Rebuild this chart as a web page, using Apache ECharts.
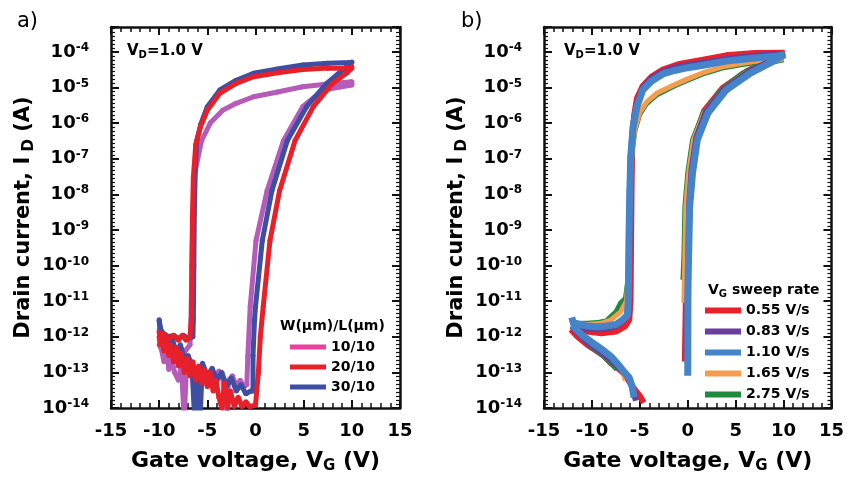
<!DOCTYPE html>
<html>
<head>
<meta charset="utf-8">
<script src="https://cdn.jsdelivr.net/npm/echarts@6.0.0/dist/echarts.min.js"></script>
<style>
  html, body { margin: 0; padding: 0; background: #fff; }
  #chart { width: 847px; height: 479px; }
</style>
</head>
<body>
<div id="chart"></div>
<script>
// axis ticks
var xTicks = [-15, -10, -5, 0, 5, 10, 15];
var yDecades = [-14, -13, -12, -11, -10, -9, -8, -7, -6, -5, -4];
var yTop = 5e-4;

// panel a: W/L series, [VG (V), ID (A)], forward sweep then reverse
var aW10 = [
  [-10, 1.5e-12], [-9.8, 5e-13], [-9.5, 2e-13], [-9.2, 3.5e-13], [-9, 1.2e-13], [-8.7, 2.5e-13], [-8.4, 1e-13],
  [-8, 6e-14], [-7.7, 1.5e-13], [-7.4, 5e-15], [-7.2, 8e-14], [-6.9, 1.2e-13], [-6.5, 7e-14], [-6.2, 1e-13],
  [-5.8, 5e-14], [-5.4, 9e-14], [-5, 4e-14], [-4.6, 1e-13], [-4.2, 5e-14], [-3.8, 1.1e-13], [-3.4, 7e-14],
  [-3, 4e-15], [-2.8, 6e-14], [-2.4, 8e-14], [-2, 4e-14], [-1.6, 6e-14], [-1.2, 4e-14], [-0.9, 4.5e-14],
  [-0.8, 2.8e-13], [-0.55, 7e-12], [0.05, 5e-10], [1.2, 1.26e-8], [2.9, 3.2e-7], [4.9, 2.9e-6], [7, 8.5e-6], [10, 1.17e-5],
  [10, 1.45e-5], [7.5, 1.25e-5], [4.9, 1.05e-5], [2.3, 7.5e-6], [-0.2, 5.5e-6], [-2, 3.6e-6], [-3.4, 2.3e-6],
  [-4.7, 1e-6], [-5.6, 3.2e-7], [-6.3, 4e-8], [-6.5, 2e-9], [-6.6, 1e-10], [-6.7, 3e-12], [-6.8, 6e-13],
  [-7.3, 4e-13], [-7.8, 3e-13], [-8.3, 2e-13], [-8.8, 3e-13], [-9.3, 2.5e-13], [-9.7, 4e-13], [-10, 6e-13]
];
var aW20 = [
  [-10, 1e-12], [-9.9, 6e-13], [-9.7, 1.2e-12], [-9.5, 4e-13], [-9.3, 8e-13], [-9, 3e-13], [-8.8, 6e-13],
  [-8.5, 2e-13], [-8.2, 5e-13], [-8, 1.5e-13], [-7.7, 3.5e-13], [-7.4, 1e-13], [-7.1, 2.5e-13], [-6.8, 8e-14],
  [-6.5, 2e-13], [-6.2, 6e-14], [-5.9, 1.5e-13], [-5.6, 5e-14], [-5.3, 1.2e-13], [-5, 4e-14], [-4.7, 1e-13],
  [-4.4, 3e-14], [-4.1, 6e-14], [-3.8, 2e-14], [-3.5, 1e-14], [-3.2, 5e-14], [-2.9, 1e-14], [-2.6, 3e-14],
  [-2.2, 1.1e-14], [-1.8, 2e-14], [-1.4, 1.1e-14], [-1, 1.5e-14], [-0.6, 1.1e-14], [0, 1.2e-14], [0.3, 1e-13],
  [0.5, 1e-12], [0.8, 7e-12], [1.5, 5e-10], [2.5, 1.26e-8], [4.1, 3.2e-7], [6, 2.9e-6], [8, 1.3e-5], [9.5, 2.6e-5], [10, 3.5e-5],
  [10, 3.8e-5], [7.5, 3.5e-5], [4.9, 3.2e-5], [2.3, 2.6e-5], [-0.2, 2e-5], [-2, 1.3e-5], [-3.7, 6.9e-6],
  [-5, 2.3e-6], [-5.7, 8e-7], [-6.2, 2.5e-7], [-6.45, 3e-8], [-6.55, 2e-9], [-6.6, 1e-10], [-6.65, 3e-12],
  [-6.8, 1e-12], [-7.2, 8e-13], [-7.6, 1.1e-12], [-8, 8e-13], [-8.5, 1.1e-12], [-9, 9e-13], [-9.5, 1.2e-12], [-10, 1.3e-12]
];
var aW30 = [
  [-10, 3e-12], [-9.9, 1.2e-12], [-9.6, 7e-13], [-9.3, 1e-12], [-9, 5e-13], [-8.6, 8e-13], [-8.2, 3.5e-13],
  [-7.8, 6e-13], [-7.4, 2.5e-13], [-7, 3e-13], [-6.6, 1.5e-13], [-6.3, 4e-15], [-6.1, 1.2e-13], [-5.8, 3e-15],
  [-5.5, 1.8e-13], [-5, 8e-14], [-4.5, 1.3e-13], [-4, 6e-14], [-3.5, 1e-13], [-3, 4e-14], [-2.5, 7e-14],
  [-2, 3e-14], [-1.5, 4.5e-14], [-1, 2.5e-14], [-0.5, 3e-14], [-0.26, 3e-14],
  [-0.26, 3e-13], [-0.1, 3e-12], [0, 7e-12], [0.7, 5e-10], [1.7, 1.26e-8], [3.3, 3.2e-7], [5.3, 2.9e-6], [7.4, 1.3e-5], [9.1, 3.2e-5], [10, 5e-5],
  [10, 5.2e-5], [7.5, 4.8e-5], [4.9, 4.3e-5], [2.3, 3.3e-5], [-0.2, 2.5e-5], [-2, 1.6e-5], [-3.7, 8.5e-6],
  [-5, 2.9e-6], [-5.7, 9e-7], [-6.1, 3.2e-7], [-6.25, 5e-8], [-6.35, 3e-9], [-6.4, 1e-10], [-6.45, 3e-12],
  [-6.5, 1e-12], [-7, 9e-13], [-7.5, 1.1e-12], [-8, 9e-13], [-8.5, 1.1e-12], [-9, 1e-12], [-9.5, 1.2e-12], [-9.8, 1.5e-12], [-10, 2.8e-12]
];

// panel b: sweep rate series ('-' = below the plotted range)
var bR055 = [
  [-12.2, 1.6e-12], [-11.5, 1e-12], [-10.5, 6e-13], [-9.5, 4e-13], [-8.8, 3e-13], [-8, 1.8e-13], [-7.1, 1.2e-13],
  [-6.5, 8e-14], [-6, 5e-14], [-5.5, 3.2e-14], [-5, 2.2e-14], [-4.6, 1.4e-14], [-2, '-'],
  [-0.3, 2e-13], [-0.2, 1e-11], [-0.1, 8e-11], [0.05, 5e-9], [0.3, 5e-8], [0.75, 4e-7], [1.7, 2.2e-6], [3.6, 9.5e-6], [6.2, 2.9e-5], [9, 6.8e-5], [10.1, 9.5e-5],
  [10.1, 1e-4], [7, 9.3e-5], [4, 8e-5], [1.6, 6e-5], [-1, 4.5e-5], [-2.6, 3.2e-5], [-3.8, 2e-5], [-4.7, 1.1e-5],
  [-5.3, 5e-6], [-5.6, 1.6e-6], [-5.8, 2.5e-7], [-5.87, 1e-8], [-5.92, 3e-10], [-5.97, 1e-11], [-6.1, 3e-12],
  [-6.5, 2e-12], [-7.5, 1.4e-12], [-9, 1.26e-12], [-10.5, 1.4e-12], [-12.2, 1.7e-12]
];
var bP083 = [
  [-12.1, 2e-12], [-11.5, 1.3e-12], [-10.5, 7e-13], [-9.5, 4.5e-13], [-8.8, 3.2e-13], [-8, 2.2e-13], [-7.1, 1.3e-13],
  [-6.5, 9e-14], [-6, 5.5e-14], [-5.6, 2.5e-14], [-5.4, 1.6e-14], [-2, '-'],
  [-0.05, 3e-13], [0, 1e-11], [0.05, 8e-11], [0.15, 5e-9], [0.4, 5e-8], [0.9, 4e-7], [1.9, 2.1e-6], [3.8, 9e-6], [6.3, 2.7e-5], [9, 6.3e-5], [10, 8.5e-5],
  [10, 9e-5], [9, 8.7e-5], [6.5, 7.5e-5], [4, 6.3e-5], [1.6, 5e-5], [0, 4.3e-5], [-1.4, 3.6e-5], [-2.6, 2.8e-5],
  [-3.8, 1.8e-5], [-4.7, 1e-5], [-5.3, 3.5e-6], [-5.7, 9e-7], [-5.95, 1.2e-7], [-6.05, 1e-8], [-6.12, 3e-10],
  [-6.18, 1e-11], [-6.3, 4e-12], [-6.8, 2.8e-12], [-7.5, 2e-12], [-8.5, 1.7e-12], [-9.5, 1.6e-12], [-10.5, 1.7e-12], [-11.5, 1.9e-12], [-12.1, 2.2e-12]
];
var bB110 = [
  [-12.1, 3.5e-12], [-11.8, 1.8e-12], [-11, 1.1e-12], [-10, 7e-13], [-9, 4.5e-13], [-8, 2.8e-13], [-7.2, 1.6e-13],
  [-6.6, 1e-13], [-6.1, 7e-14], [-5.8, 4e-14], [-5.6, 2e-14], [-2, '-'],
  [0, 8e-14], [0.02, 1e-11], [0.05, 6e-11], [0.2, 4.5e-9], [0.5, 4e-8], [1, 3.4e-7], [2.1, 1.9e-6], [4, 8.5e-6], [6.5, 2.5e-5], [9.2, 6e-5], [10.1, 8.3e-5],
  [10.1, 8.3e-5], [9.2, 7.6e-5], [6.5, 6.5e-5], [4, 5.5e-5], [1.6, 4.2e-5], [0, 3.6e-5], [-1.4, 3e-5], [-2.6, 2.4e-5],
  [-3.8, 1.5e-5], [-4.7, 8.5e-6], [-5.3, 2.9e-6], [-5.7, 8e-7], [-5.95, 1.1e-7], [-6.05, 1e-8], [-6.15, 3e-10],
  [-6.2, 1e-11], [-6.3, 4e-12], [-6.8, 3e-12], [-7.5, 2.2e-12], [-8.5, 2e-12], [-9.5, 1.9e-12], [-10.5, 2e-12], [-11.5, 2.3e-12], [-12.1, 2.6e-12]
];
var bO165 = [
  [-12, 2e-12], [-11, 1e-12], [-10, 6e-13], [-9, 3.8e-13], [-8, 2.4e-13], [-7.3, 1.6e-13], [-6.8, 1e-13],
  [-6.5, 6e-14], [-2, '-'],
  [-0.4, 9e-12], [-0.3, 2e-10], [-0.2, 4.5e-9], [0.1, 4e-8], [0.6, 3.4e-7], [1.7, 1.9e-6], [3.7, 8.5e-6], [6, 2.5e-5], [8.5, 5e-5], [10, 6.5e-5],
  [10, 6.8e-5], [7.8, 5.8e-5], [5.7, 4.8e-5], [3.6, 3.8e-5], [1.6, 2.6e-5], [0, 1.75e-5], [-1.4, 1.2e-5], [-3.2, 7e-6],
  [-4.3, 3.9e-6], [-5, 2e-6], [-5.5, 7e-7], [-5.8, 1.8e-7], [-6, 2.8e-8], [-6.1, 1e-9], [-6.2, 5e-11], [-6.4, 1e-11],
  [-7, 5e-12], [-8, 3e-12], [-9, 2.4e-12], [-10.5, 2.2e-12], [-12, 2.4e-12]
];
var bG275 = [
  [-12, 2.5e-12], [-11, 9e-13], [-10, 5e-13], [-9, 3.2e-13], [-8, 1.8e-13], [-7.4, 1.2e-13], [-2, '-'],
  [-0.5, 4e-11], [-0.4, 2e-10], [-0.3, 4.5e-9], [0, 4e-8], [0.5, 3.4e-7], [1.6, 1.9e-6], [3.5, 8.5e-6], [5.7, 2.5e-5], [7.8, 4.5e-5], [10, 6e-5],
  [10, 6.3e-5], [7.8, 5.4e-5], [5.7, 4.4e-5], [3.6, 3.5e-5], [1.6, 2.4e-5], [0, 1.6e-5], [-1.4, 1.1e-5], [-3.2, 6.3e-6],
  [-4.3, 3.5e-6], [-5, 1.8e-6], [-5.5, 6.3e-7], [-5.8, 1.6e-7], [-6, 2.5e-8], [-6.1, 1e-9], [-6.2, 5e-11], [-6.5, 1.2e-11],
  [-7, 9e-12], [-7.5, 5e-12], [-8.5, 2.8e-12], [-9.5, 2.5e-12], [-10.5, 2.4e-12], [-11.5, 2.4e-12], [-12, 2.5e-12]
];

var FONT = 'DejaVu Sans';
var INK = '#111';

function decadeLabel(v) {
  var l = Math.log10(v), e = Math.round(l);
  if (Math.abs(l - e) > 1e-6) return '';
  return '{m|10}{e|' + e + '}';
}

var majorTick = { inside: true, length: 8, lineStyle: { color: INK, width: 2 } };
var minorTickStyle = { color: INK, width: 1.5 };

function makeAxes(gi) {
  var line = { show: true, onZero: false, lineStyle: { color: INK, width: 2.5 } };
  var xBase = {
    gridIndex: gi, type: 'value',
    min: xTicks[0], max: xTicks[xTicks.length - 1], interval: xTicks[1] - xTicks[0],
    axisLine: line, splitLine: { show: false },
    axisTick: majorTick,
    minorTick: { show: true, splitNumber: 5, length: 5, lineStyle: minorTickStyle }
  };
  // tick-only exponent axes that carry the small ticks between decades
  var expBase = {
    gridIndex: gi, type: 'value',
    min: yDecades[0], max: Math.log10(yTop), interval: 1,
    axisLine: { show: false, onZero: false }, splitLine: { show: false }, axisLabel: { show: false },
    axisTick: majorTick,
    minorTick: { show: true, splitNumber: 9, length: 4, lineStyle: { color: INK, width: 1.2 } }
  };
  var xs = [
    Object.assign({}, xBase, {
      position: 'bottom',
      axisLabel: { margin: 14, fontSize: 18, fontWeight: 'bold', fontFamily: FONT, color: '#000' },
      name: '{t|Gate voltage, V}{s|G}{t| (V)}', nameLocation: 'middle', nameGap: 40,
      nameTextStyle: { rich: {
        t: { fontSize: 22, fontWeight: 'bold', fontFamily: FONT, color: '#000', lineHeight: 26 },
        s: { fontSize: 15, fontWeight: 'bold', fontFamily: FONT, color: '#000', lineHeight: 18, verticalAlign: 'bottom' }
      } }
    }),
    Object.assign({}, xBase, { position: 'top', axisLabel: { show: false } })
  ];
  var ys = [
    {
      gridIndex: gi, type: 'log', logBase: 10, position: 'left',
      min: Math.pow(10, yDecades[0]), max: yTop, interval: 1,
      axisLine: line, splitLine: { show: false },
      axisTick: majorTick,
      axisLabel: { margin: 22, formatter: decadeLabel, rich: {
        m: { fontSize: 18, fontWeight: 'bold', fontFamily: FONT, color: '#000', lineHeight: 20 },
        e: { fontSize: 12, fontWeight: 'bold', fontFamily: FONT, color: '#000', lineHeight: 12, verticalAlign: 'top' }
      } },
      name: '{t|Drain current, I}{s| D}{t| (A)}', nameLocation: 'middle', nameGap: 74,
      nameTextStyle: { rich: {
        t: { fontSize: 21, fontWeight: 'bold', fontFamily: FONT, color: '#000', lineHeight: 26 },
        s: { fontSize: 15, fontWeight: 'bold', fontFamily: FONT, color: '#000', lineHeight: 18, verticalAlign: 'bottom' }
      } }
    },
    Object.assign({}, expBase, { position: 'left' }),
    Object.assign({}, expBase, { position: 'right', axisLine: line })
  ];
  return { x: xs, y: ys };
}

function curve(name, data, color, width, gi, z, dots) {
  return {
    name: name, type: 'line', data: data, z: z,
    xAxisIndex: gi * 2, yAxisIndex: gi * 3,
    symbol: dots ? 'circle' : 'none', symbolSize: 5, showSymbol: !!dots,
    lineStyle: { color: color, width: width }, itemStyle: { color: color },
    connectNulls: false, clip: true, silent: true, animation: false
  };
}

var A = makeAxes(0), B = makeAxes(1);

function subText(main, sub, tail, size) {
  return {
    text: '{m|' + main + '}{s|' + sub + '}{m|' + tail + '}',
    rich: {
      m: { fontSize: size, fontWeight: 'bold', fontFamily: FONT, color: '#000', lineHeight: size + 3 },
      s: { fontSize: Math.round(size * 0.68), fontWeight: 'bold', fontFamily: FONT, color: '#000', lineHeight: Math.round(size * 0.68), verticalAlign: 'bottom' }
    }
  };
}

var vdA = subText('V', 'D', '=1.0 V', 15);
var vdB = subText('V', 'D', '=1.0 V', 15);
var vgT = subText('V', 'G', ' sweep rate', 14);

var legendText = { fontSize: 14, fontWeight: 'bold', fontFamily: FONT, color: '#000', lineHeight: 20 };

var option = {
  backgroundColor: '#fff',
  animation: false,
  textStyle: { fontFamily: FONT },
  title: [
    { text: 'a)', left: 17, top: 11, padding: 0, textStyle: { fontSize: 21, fontWeight: 'normal', fontFamily: FONT, color: '#000' } },
    { text: 'b)', left: 461, top: 11, padding: 0, textStyle: { fontSize: 21, fontWeight: 'normal', fontFamily: FONT, color: '#000' } },
    { text: vdA.text, left: 127, top: 42, padding: 0, textStyle: { rich: vdA.rich } },
    { text: vdB.text, left: 564, top: 42, padding: 0, textStyle: { rich: vdB.rich } },
    { text: 'W(μm)/L(μm)', left: 280, top: 319, padding: 0, textStyle: { fontSize: 14, fontWeight: 'bold', fontFamily: FONT, color: '#000' } },
    { text: vgT.text, left: 708, top: 282, padding: 0, textStyle: { rich: vgT.rich } }
  ],
  legend: [
    {
      data: [{ name: '10/10', itemStyle: { color: '#e8419e' } }, { name: '20/10' }, { name: '30/10' }],
      orient: 'vertical', left: 290, top: 337, padding: 0, itemGap: 0,
      icon: 'rect', itemWidth: 36, itemHeight: 5, selectedMode: false, textStyle: legendText
    },
    {
      data: ['0.55 V/s', '0.83 V/s', '1.10 V/s', '1.65 V/s', '2.75 V/s'],
      orient: 'vertical', left: 705, top: 300, padding: 0, itemGap: 0,
      icon: 'rect', itemWidth: 36, itemHeight: 6, selectedMode: false, textStyle: Object.assign({}, legendText, { lineHeight: 21 })
    }
  ],
  grid: [
    { left: 111, top: 27, width: 289, height: 381, containLabel: false },
    { left: 544, top: 27, width: 288, height: 381, containLabel: false }
  ],
  xAxis: A.x.concat(B.x),
  yAxis: A.y.concat(B.y),
  series: [
    curve('10/10', aW10, '#b55cb8', 5, 0, 2, true),
    curve('30/10', aW30, '#3d4ea3', 5, 0, 3, true),
    curve('20/10', aW20, '#e8202a', 5, 0, 4, true),
    curve('0.55 V/s', bR055, '#e8212b', 6, 1, 2, false),
    curve('2.75 V/s', bG275, '#1f8a3e', 5, 1, 3, false),
    curve('1.65 V/s', bO165, '#f59d4e', 5, 1, 4, false),
    curve('0.83 V/s', bP083, '#6a3f9c', 6, 1, 5, false),
    curve('1.10 V/s', bB110, '#4584c8', 7, 1, 6, false)
  ]
};

var chart = echarts.init(document.getElementById('chart'));
chart.setOption(option);
window.onresize = function () { chart.resize(); };
</script>
</body>
</html>
